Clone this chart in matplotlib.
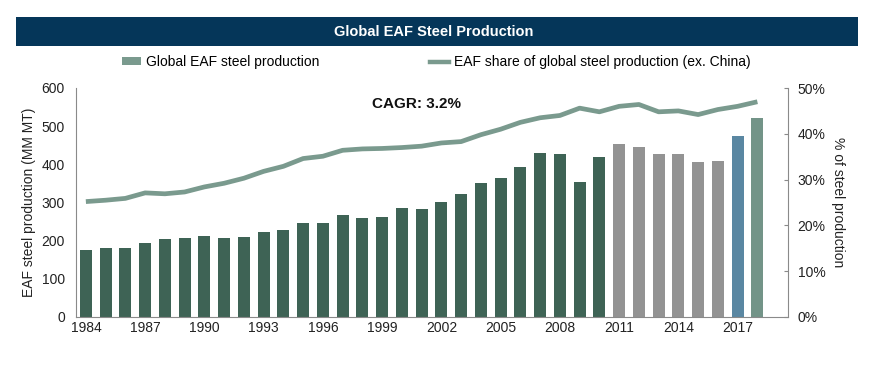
import numpy as np
import matplotlib
matplotlib.use("Agg")
import matplotlib.pyplot as plt
from matplotlib.patches import Rectangle, Patch
from matplotlib.lines import Line2D
from matplotlib.ticker import FuncFormatter

plt.rcParams['font.family'] = ['Liberation Sans', 'DejaVu Sans']

years = list(range(1984, 2019))
production = [176, 182, 182, 195, 205, 208, 213, 208, 210, 224,
              229, 245, 247, 268, 260, 263, 286, 284, 302, 323,
              352, 365, 394, 430, 428, 355, 420, 452, 446, 428,
              428, 407, 410, 475, 522]
eaf_share = [25.2, 25.5, 25.9, 27.1, 26.9, 27.3, 28.4, 29.2, 30.3, 31.8,
             32.9, 34.6, 35.1, 36.4, 36.7, 36.8, 37.0, 37.3, 38.0, 38.3,
             39.8, 41.0, 42.5, 43.5, 44.0, 45.6, 44.8, 46.0, 46.4, 44.8,
             45.0, 44.2, 45.3, 46.0, 47.0]
xtick_years = list(range(1984, 2018, 3))

# bar colour groups
bar_colors = []
for y in years:
    if y <= 2010:
        bar_colors.append('#3e6355')
    elif y <= 2016:
        bar_colors.append('#939393')
    elif y == 2017:
        bar_colors.append('#5a87a2')
    else:
        bar_colors.append('#739488')
line_color = '#7a9a8e'

fig = plt.figure(figsize=(8.9, 3.67), dpi=100)
fig.patch.set_facecolor('white')

# title banner
fig.patches.append(Rectangle((16 / 890, 1 - 46 / 367), 842 / 890, 29 / 367,
                             transform=fig.transFigure, facecolor='#053659',
                             edgecolor='none', zorder=0))
fig.text(0.487, 1 - 31.5 / 367, 'Global EAF Steel Production', ha='center', va='center',
         color='white', fontsize=10.5, fontweight='bold')

ax = fig.add_axes([76 / 890, 1 - 317 / 367, 712 / 890, 229 / 367])
ax.bar(years, production, width=0.6, color=bar_colors, zorder=2)
ax.set_ylim(0, 600)
ax.set_xlim(1983.5, 2019.55)
ax.set_yticks(range(0, 601, 100))
ax.set_xticks(xtick_years)
ax.tick_params(axis='both', labelsize=10, length=0, colors='#222222', pad=3)
ax.tick_params(axis='y', pad=8)
ax.set_ylabel('EAF steel production (MM MT)', fontsize=10, color='#222222', labelpad=4)
for s in ['top', 'right']:
    ax.spines[s].set_visible(False)
ax.spines['left'].set_color('#8a8a8a')
ax.spines['bottom'].set_color('#8a8a8a')
ax.patch.set_visible(False)

ax2 = ax.twinx()
ax2.plot(years, eaf_share, color=line_color, lw=3.4, solid_capstyle='butt',
         solid_joinstyle='round', zorder=3)
ax2.set_ylim(0, 50)
ax2.set_yticks(range(0, 51, 10))
ax2.yaxis.set_major_formatter(FuncFormatter(lambda v, p: '%d%%' % v))
ax2.tick_params(axis='y', labelsize=10, length=3, direction='in', colors='#8a8a8a',
                labelcolor='#222222', pad=7)
ax2.set_ylabel('% of steel production', fontsize=10, color='#222222', rotation=-90,
               labelpad=14)
for s in ['top', 'left', 'bottom']:
    ax2.spines[s].set_visible(False)
ax2.spines['right'].set_color('#8a8a8a')

ax.text(2000.75, 557, 'CAGR: 3.2%', ha='center', va='center', fontsize=11,
        fontweight='bold', color='#111111')

handles = [Patch(facecolor=line_color, edgecolor='none'),
           Line2D([0], [0], color=line_color, lw=3.2)]
leg = fig.legend(handles, ['Global EAF steel production',
                           'EAF share of global steel production (ex. China)'],
                 loc='center', bbox_to_anchor=(0.49, 1 - 62 / 367), ncol=2,
                 frameon=False, fontsize=10, columnspacing=8, handlelength=1.4,
                 handleheight=0.5, handletextpad=0.3)

fig.savefig('out.png', dpi=100, facecolor='white')
